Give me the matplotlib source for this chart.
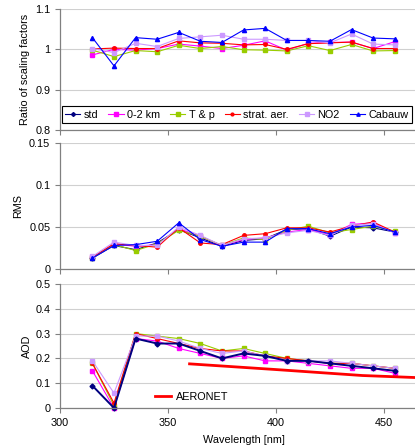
import matplotlib
matplotlib.use("Agg")
import matplotlib.pyplot as plt
from matplotlib.lines import Line2D

plt.rcParams['font.family'] = ['Liberation Sans', 'DejaVu Sans']

wavelength = [315, 325, 335, 345, 355, 365, 375, 385, 395, 405, 415, 425, 435, 445, 455]
series_names = ['std', '0-2 km', 'T & p', 'strat. aer.', 'NO2', 'Cabauw']

# ratio of scaling factors (relative to std, so std itself is not drawn)
ratio_02km = [0.986, 1.000, 0.998, 1.002, 1.013, 1.008, 1.002, 1.010, 1.021, 0.998, 1.015, 1.017, 1.018, 1.002, 1.019]
ratio_tp = [0.998, 0.982, 0.997, 0.994, 1.010, 1.002, 1.007, 0.999, 0.998, 0.996, 1.009, 0.997, 1.012, 0.996, 0.997]
ratio_strat = [1.001, 1.003, 1.002, 1.002, 1.021, 1.016, 1.015, 1.011, 1.012, 1.000, 1.014, 1.016, 1.018, 1.002, 1.002]
ratio_no2 = [1.002, 0.992, 1.015, 1.007, 1.027, 1.031, 1.035, 1.025, 1.025, 1.022, 1.022, 1.016, 1.038, 1.013, 1.011]
ratio_cabauw = [1.029, 0.959, 1.029, 1.025, 1.042, 1.020, 1.017, 1.048, 1.052, 1.022, 1.022, 1.020, 1.049, 1.028, 1.026]

# RMS
rms_std = [0.013, 0.028, 0.023, 0.031, 0.047, 0.037, 0.027, 0.034, 0.036, 0.047, 0.048, 0.039, 0.050, 0.049, 0.044]
rms_02km = [0.014, 0.030, 0.027, 0.029, 0.048, 0.039, 0.028, 0.035, 0.037, 0.044, 0.047, 0.041, 0.053, 0.055, 0.043]
rms_tp = [0.013, 0.029, 0.022, 0.030, 0.046, 0.039, 0.028, 0.037, 0.035, 0.046, 0.051, 0.043, 0.047, 0.051, 0.045]
rms_strat = [0.014, 0.030, 0.028, 0.026, 0.049, 0.031, 0.029, 0.040, 0.042, 0.049, 0.049, 0.044, 0.051, 0.056, 0.044]
rms_no2 = [0.015, 0.032, 0.028, 0.028, 0.050, 0.040, 0.028, 0.036, 0.037, 0.043, 0.046, 0.040, 0.052, 0.054, 0.043]
rms_cabauw = [0.013, 0.028, 0.029, 0.033, 0.055, 0.035, 0.027, 0.032, 0.032, 0.048, 0.048, 0.042, 0.050, 0.052, 0.044]

# AOD
aod_std = [0.09, 0.00, 0.28, 0.26, 0.26, 0.23, 0.20, 0.22, 0.21, 0.19, 0.19, 0.18, 0.17, 0.16, 0.15]
aod_02km = [0.15, 0.00, 0.28, 0.27, 0.24, 0.22, 0.20, 0.21, 0.19, 0.19, 0.18, 0.17, 0.16, 0.16, 0.14]
aod_tp = [0.18, 0.01, 0.30, 0.29, 0.28, 0.26, 0.23, 0.24, 0.22, 0.20, 0.19, 0.18, 0.18, 0.17, 0.16]
aod_strat = [0.18, 0.02, 0.30, 0.28, 0.26, 0.24, 0.23, 0.23, 0.21, 0.20, 0.19, 0.18, 0.18, 0.17, 0.16]
aod_no2 = [0.19, 0.06, 0.29, 0.29, 0.27, 0.24, 0.22, 0.23, 0.21, 0.19, 0.19, 0.19, 0.18, 0.17, 0.16]

aeronet_wl = [360, 400, 440, 470]
aeronet_aod = [0.178, 0.155, 0.131, 0.121]

colors = ['#000080', '#FF00FF', '#99CC00', '#FF0000', '#CC99FF', '#0000FF']
markers = ['D', 's', 's', 'o', 's', '^']
msizes = [2.5, 2.8, 2.8, 2.5, 2.8, 3.0]

fig = plt.figure(figsize=(4.15, 4.48), dpi=100)
ax1 = fig.add_axes([60/415, 1 - 130/448, 1 - 60/415, 121/448])
ax2 = fig.add_axes([60/415, 1 - 269/448, 1 - 60/415, 126/448])
ax3 = fig.add_axes([60/415, 1 - 408/448, 1 - 60/415, 124/448])


def style_axis(ax, ymin, ymax, yticks, ylabels, show_x):
    ax.set_xlim(300, 464.4)
    ax.set_ylim(ymin, ymax)
    ax.set_yticks(yticks)
    ax.set_yticklabels(ylabels)
    ax.set_xticks([300, 350, 400, 450])
    if not show_x:
        ax.set_xticklabels([])
    for s in ['top', 'right']:
        ax.spines[s].set_visible(False)
    for s in ['left', 'bottom']:
        ax.spines[s].set_color('#808080')
        ax.spines[s].set_linewidth(0.9)
    ax.tick_params(axis='both', direction='out', length=3.5, color='#808080',
                   labelsize=7.8, labelcolor='black', width=0.8)
    ax.grid(axis='y', color='#D0D0D0', linewidth=0.8)
    ax.set_axisbelow(True)


ratio_data = [None, ratio_02km, ratio_tp, ratio_strat, ratio_no2, ratio_cabauw]
rms_data = [rms_std, rms_02km, rms_tp, rms_strat, rms_no2, rms_cabauw]
aod_data = [aod_std, aod_02km, aod_tp, aod_strat, aod_no2]

handles = []
for i, vals in enumerate(ratio_data):
    if vals is None:
        h = Line2D([], [], color=colors[i], marker=markers[i], markersize=msizes[i],
                   linewidth=0.8, label=series_names[i])
    else:
        h, = ax1.plot(wavelength, vals, color=colors[i], marker=markers[i],
                      markersize=msizes[i], linewidth=0.8, label=series_names[i],
                      clip_on=False)
    handles.append(h)
for i, vals in enumerate(rms_data):
    ax2.plot(wavelength, vals, color=colors[i], marker=markers[i], markersize=msizes[i],
             linewidth=0.8, clip_on=False)
for i in [1, 2, 3, 4, 0]:
    ax3.plot(wavelength, aod_data[i], color=colors[i], marker=markers[i], markersize=msizes[i],
             linewidth=1.4 if i == 0 else 0.8, clip_on=False)
ax3.plot(aeronet_wl, aeronet_aod, color='#FF0000', linewidth=2, label='AERONET')

style_axis(ax1, 0.8, 1.1, [0.8, 0.9, 1.0, 1.1], ['0.8', '0.9', '1', '1.1'], False)
style_axis(ax2, 0, 0.15, [0, 0.05, 0.1, 0.15], ['0', '0.05', '0.1', '0.15'], False)
style_axis(ax3, 0, 0.5, [0, 0.1, 0.2, 0.3, 0.4, 0.5], ['0', '0.1', '0.2', '0.3', '0.4', '0.5'], True)

ax1.set_ylabel('Ratio of scaling factors', fontsize=7.8)
ax1.yaxis.set_label_coords(-0.085, 0.5)
ax2.set_ylabel('RMS', fontsize=7.8)
ax2.yaxis.set_label_coords(-0.105, 0.5)
ax3.set_ylabel('AOD', fontsize=7.8)
ax3.yaxis.set_label_coords(-0.078, 0.5)
ax3.set_xlabel('Wavelength [nm]', fontsize=7.8)
ax3.xaxis.set_label_coords(0.518, -0.22)

leg = ax1.legend(handles=handles, loc='lower left', bbox_to_anchor=(0.005, 0.058),
                 borderaxespad=0, ncol=6, fontsize=7.8, handlelength=1.4,
                 handletextpad=0.3, columnspacing=0.95, borderpad=0.3,
                 fancybox=False, framealpha=1, markerscale=0.8)
leg.get_frame().set_edgecolor('black')
leg.get_frame().set_linewidth(0.8)

ax3.legend(loc='center left', bbox_to_anchor=(0.24, 0.09), fontsize=7.8, frameon=False,
           handlelength=1.5, handletextpad=0.4)

fig.savefig('out.png', dpi=100)
